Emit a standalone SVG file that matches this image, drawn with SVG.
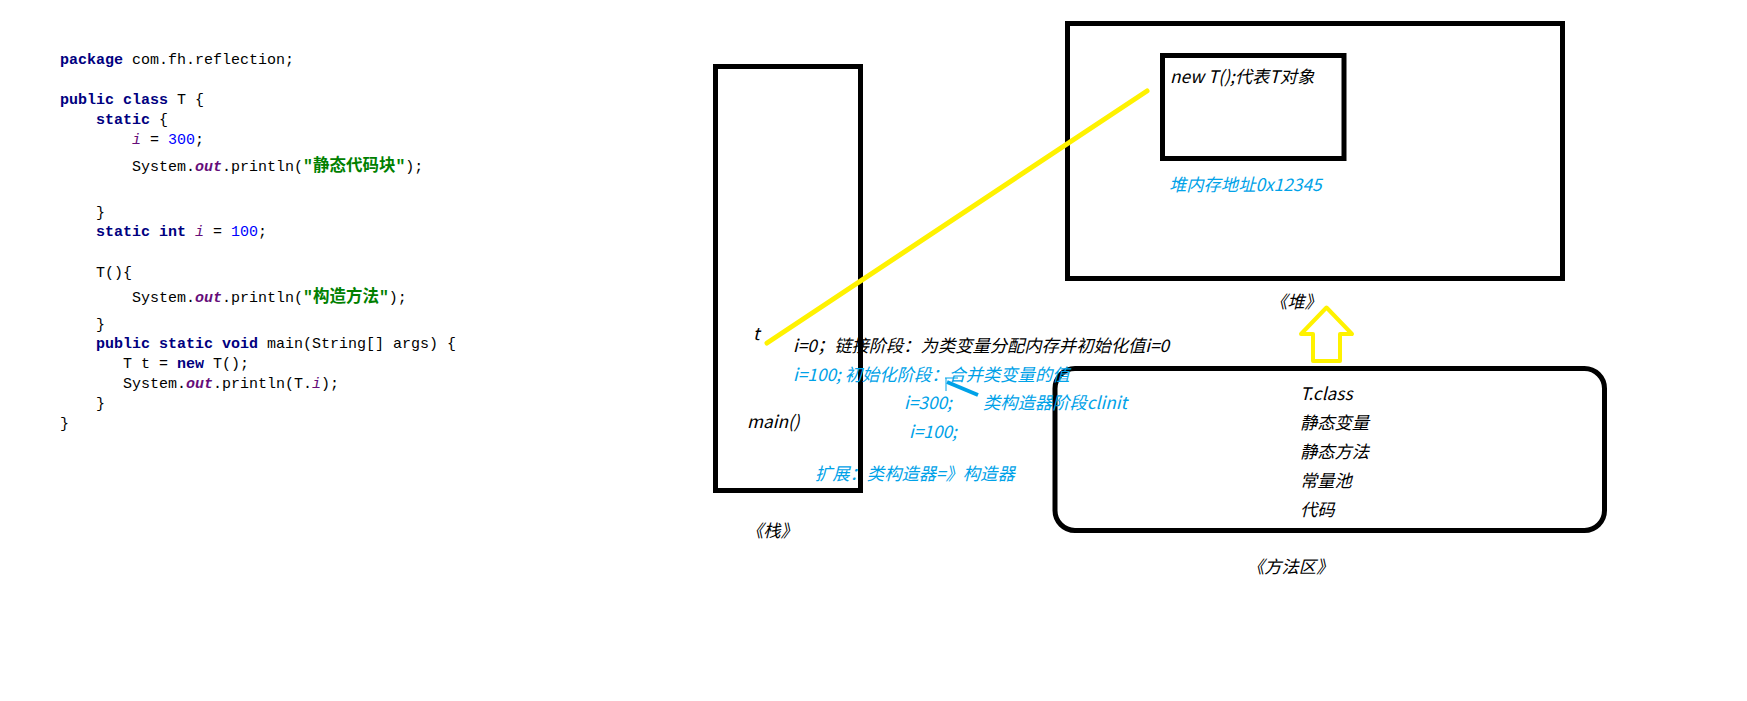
<svg xmlns="http://www.w3.org/2000/svg" width="1747" height="701" viewBox="0 0 1747 701">
<style>
.code{font-family:"Liberation Mono","Noto Sans CJK SC",monospace;font-size:15px;fill:#000;white-space:pre}
.kw{font-weight:bold;fill:#000080}
.var{font-style:italic;fill:#660E7A}
.num{fill:#0000FF}
.out{font-style:italic;font-weight:bold;fill:#660E7A}
.str{font-weight:bold;fill:#008000;font-size:16.5px}
.lbl{font-family:"Noto Sans CJK SC",sans-serif;font-style:italic;font-size:17.3px;fill:#000}
.blue{fill:#00A2E8}
.box{fill:none;stroke:#000;stroke-width:5}
</style>
<rect width="1747" height="701" fill="#fff"/>
<g id="code">
<text class="code" x="60" y="64"><tspan class="kw">package</tspan> com.fh.reflection;</text>
<text class="code" x="60" y="104"><tspan class="kw">public</tspan> <tspan class="kw">class</tspan> T {</text>
<text class="code" x="96" y="124"><tspan class="kw">static</tspan> {</text>
<text class="code" x="132" y="144"><tspan class="var">i</tspan> = <tspan class="num">300</tspan>;</text>
<text class="code" x="132" y="171">System.<tspan class="out">out</tspan>.println(<tspan class="str">"静态代码块"</tspan>);</text>
<text class="code" x="96" y="217">}</text>
<text class="code" x="96" y="236"><tspan class="kw">static</tspan> <tspan class="kw">int</tspan> <tspan class="var">i</tspan> = <tspan class="num">100</tspan>;</text>
<text class="code" x="96" y="277">T(){</text>
<text class="code" x="132" y="302">System.<tspan class="out">out</tspan>.println(<tspan class="str">"构造方法"</tspan>);</text>
<text class="code" x="96" y="329">}</text>
<text class="code" x="96" y="348"><tspan class="kw">public</tspan> <tspan class="kw">static</tspan> <tspan class="kw">void</tspan> main(String[] args) {</text>
<text class="code" x="123" y="368">T t = <tspan class="kw">new</tspan> T();</text>
<text class="code" x="123" y="388">System.<tspan class="out">out</tspan>.println(T.<tspan class="var">i</tspan>);</text>
<text class="code" x="96" y="408">}</text>
<text class="code" x="60" y="428">}</text>
</g>
<g id="stack">
<rect class="box" x="715.5" y="66.5" width="145" height="424"/>
<text class="lbl" x="753" y="340">t</text>
<text class="lbl" x="747" y="428">main()</text>
<text class="lbl" x="746" y="537">《栈》</text>
</g>
<g id="heap">
<rect class="box" x="1067.5" y="23.5" width="495" height="255"/>
<text class="lbl blue" x="1169" y="191">堆内存地址0x12345</text>
<text class="lbl" x="1270" y="308">《堆》</text>
</g>
<g id="object">
<rect class="box" x="1162.5" y="55.5" width="181.5" height="103"/>
<text class="lbl" x="1170" y="83">new T();代表T对象</text>
</g>
<g id="method-area">
<rect class="box" x="1055" y="368.5" width="549.5" height="162" rx="20"/>
<text class="lbl" x="1300" y="400">T.class</text>
<text class="lbl" x="1300" y="429">静态变量</text>
<text class="lbl" x="1300" y="458">静态方法</text>
<text class="lbl" x="1300" y="487">常量池</text>
<text class="lbl" x="1300" y="516">代码</text>
<text class="lbl" x="1247" y="573">《方法区》</text>
</g>
<g id="notes">
<text class="lbl" x="793" y="352">i=0；链接阶段：为类变量分配内存并初始化值i=0</text>
<text class="lbl blue" x="793" y="381">i=100; 初始化阶段：合并类变量的值</text>
<text class="lbl blue" x="904" y="409">i=300;</text>
<text class="lbl blue" x="983" y="409">类构造器阶段clinit</text>
<text class="lbl blue" x="909" y="438">i=100;</text>
<text class="lbl blue" x="815" y="480">扩展：类构造器=》构造器</text>
</g>
<g id="connectors">
<line x1="767" y1="343" x2="1147" y2="91" stroke="#FFF200" stroke-width="5" stroke-linecap="round"/>
<path d="M1326.5,307.5 L1352,334 L1340,334 L1340,361 L1313,361 L1313,334 L1301,334 Z" fill="none" stroke="#FFF200" stroke-width="4" stroke-linejoin="round"/>
<line x1="947" y1="382" x2="978" y2="395" stroke="#00A2E8" stroke-width="4"/>
<path d="M945,378 L958,378 M946,378 L946,391" fill="none" stroke="#00A2E8" stroke-width="1"/>
</g>
</svg>
